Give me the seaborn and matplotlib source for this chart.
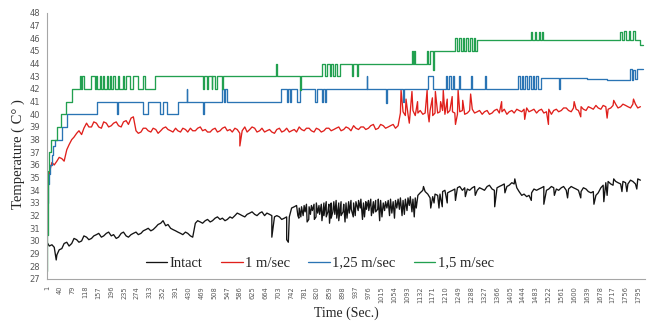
import matplotlib
matplotlib.use("Agg")
import matplotlib.pyplot as plt
import seaborn as sns
import pandas as pd

# ---------------- data ----------------
SERIES = ["Intact", "1 m/sec", "1,25 m/sec", "1,5 m/sec"]
COLORS = ["#141414", "#e0201c", "#2a74b4", "#22a050"]

x_ticks = list(range(1, 1796, 39))          # 1, 40, 79, ... 1795
y_ticks = list(range(27, 49))

# noisy series read every 15 s (s = 1, 16, ... 1801) and in between (s = 8, 23, ... 1793)
base_s = list(range(1, 1802, 15))
mid_s = list(range(8, 1794, 15))

intact_base = [
    29.9, 29.7, 28.9, 29.4, 29.9, 29.8, 30.1, 30.0, 30.3, 30.2,
    30.5, 30.3, 30.6, 30.4, 30.2, 30.6, 30.4, 30.5, 30.7, 30.6,
    30.9, 30.8, 31.1, 31.4, 31.2, 31.0, 30.8, 30.6, 30.7, 30.4,
    31.4, 31.5, 31.6, 31.5, 31.8, 31.7, 31.6, 31.9, 32.0, 32.1,
    31.9, 32.2, 32.1, 32.2, 32.0, 32.1, 31.9, 31.9, 31.8, 31.9,
    32.7, 32.6, 32.8, 32.7, 32.9, 32.8, 33.0, 32.9, 33.1, 33.0,
    32.9, 33.1, 33.0, 33.2, 33.0, 33.2, 33.1, 33.3, 33.0, 33.2,
    33.1, 33.3, 33.2, 33.4, 33.3, 33.6, 34.0, 33.7, 33.5, 33.6,
    33.9, 33.8, 34.0, 34.2, 34.0, 34.1, 34.2, 34.0, 34.1, 34.3,
    34.1, 34.2, 34.4, 34.3, 34.6, 34.2, 33.6, 33.5, 33.8, 34.0,
    34.2, 34.0, 34.3, 34.1, 34.2, 34.0, 34.3, 34.1, 33.9, 34.1,
    33.8, 33.6, 34.2, 34.6, 34.5, 34.7, 34.5, 34.6, 34.8, 34.5,
    34.8,
]
intact_mid = [
    29.6, 29.5, 29.3, 29.8, 29.6, 30.2, 29.9, 30.4, 30.1, 30.4,
    30.6, 30.4, 30.7, 30.5, 30.3, 30.7, 30.3, 30.6, 30.5, 30.8,
    31.0, 30.9, 31.3, 31.6, 31.3, 30.9, 30.7, 30.5, 30.6, 30.3,
    31.6, 31.4, 31.7, 31.6, 31.9, 31.8, 31.7, 31.8, 32.2, 32.0,
    32.1, 32.3, 32.0, 32.3, 32.2, 32.0, 32.0, 31.7, 31.9, 32.6,
    32.8, 32.7, 32.9, 32.8, 33.0, 32.9, 33.1, 33.0, 33.2, 33.1,
    33.0, 33.2, 33.1, 33.3, 33.1, 33.3, 33.2, 33.2, 33.1, 33.3,
    33.2, 33.4, 33.3, 33.5, 33.4, 33.8, 33.9, 33.4, 33.7, 33.7,
    34.0, 33.9, 34.1, 34.3, 34.2, 34.0, 34.3, 34.2, 34.0, 34.4,
    34.0, 34.3, 34.5, 34.4, 34.5, 33.9, 33.7, 33.6, 34.1, 34.1,
    34.3, 34.1, 34.2, 34.0, 34.3, 34.1, 34.2, 34.0, 34.2, 33.9,
    33.9, 33.8, 34.4, 34.7, 34.4, 34.6, 34.7, 34.5, 34.7, 34.9,
]
intact_spike_s = [29, 683, 728, 733,
                  762, 765, 771, 778, 784, 790, 795, 800, 806, 812, 817, 822, 828,
                  835, 841, 848, 853, 858, 863, 868, 874, 880, 886, 893, 899, 905,
                  911, 918, 924, 930, 936, 945, 951, 958, 964, 970, 977, 985, 991,
                  998, 1004, 1010, 1017, 1025, 1032, 1040, 1047, 1055, 1062, 1070,
                  1078, 1085, 1093, 1100, 1108, 1115, 1121,
                  1143, 1165, 1175, 1190, 1200, 1215, 1240, 1270, 1300, 1359, 1390,
                  1420, 1470, 1508, 1540, 1580, 1620, 1660, 1690, 1700, 1720, 1745,
                  1760, 1790]
intact_spike_v = [28.5, 30.3, 30.1, 29.9,
                  32.0, 31.8, 31.9, 32.0, 32.3, 31.5, 31.7, 32.1, 32.4, 31.7, 31.9,
                  32.2, 32.1, 31.6, 32.0, 31.9, 32.3, 31.4, 31.8, 32.3, 32.1, 31.8,
                  31.6, 32.0, 32.3, 31.5, 31.8, 32.2, 32.5, 31.9, 32.0, 32.4, 32.6,
                  31.7, 31.9, 32.5, 32.4, 32.0, 32.2, 32.3, 32.5, 31.6, 31.9, 32.4,
                  32.6, 32.0, 32.2, 31.8, 32.6, 32.5, 32.0, 32.1, 32.4, 32.8, 32.3,
                  31.9, 32.6,
                  34.3, 32.6, 33.0, 32.6, 32.7, 33.0, 33.2, 33.5, 33.6, 32.7, 33.8,
                  34.9, 33.2, 32.9, 33.6, 33.4, 33.4, 32.9, 33.1, 33.6, 34.9, 33.9,
                  33.9, 34.1]

red_base = [
    33.0, 36.2, 36.3, 36.5, 37.2, 38.0, 38.5, 38.4, 39.3, 39.0,
    39.3, 38.9, 39.3, 39.1, 39.4, 39.0, 39.5, 39.7, 38.7, 38.6,
    38.9, 38.6, 38.8, 38.7, 39.0, 38.7, 38.9, 38.6, 38.8, 38.9,
    38.7, 39.0, 38.8, 38.6, 38.9, 38.7, 39.0, 38.8, 38.9, 38.5,
    39.0, 38.8, 38.9, 38.7, 38.6, 38.8, 38.5, 38.9, 38.7, 38.6,
    38.8, 39.0, 38.7, 38.9, 38.6, 38.8, 38.7, 38.9, 38.8, 39.0,
    38.8, 38.9, 39.1, 38.8, 39.0, 38.9, 39.2, 38.9, 39.1, 39.0,
    39.2, 39.1, 40.2, 40.0, 40.3, 40.1, 40.0, 40.2, 39.9, 40.1,
    40.3, 40.1, 40.2, 40.0, 40.3, 40.1, 40.4, 40.2, 40.0, 40.3,
    40.1, 40.4, 40.2, 40.0, 40.3, 40.4, 40.2, 40.5, 40.3, 40.1,
    40.4, 40.2, 40.0, 40.4, 40.3, 40.5, 40.2, 40.4, 40.6, 40.3,
    40.5, 40.7, 40.4, 40.6, 40.5, 40.8, 40.6, 40.7, 40.5, 40.8,
    40.6,
]
red_mid = [
    35.3, 36.0, 36.6, 36.3, 37.6, 38.2, 38.7, 38.9, 39.0, 39.4,
    39.0, 39.4, 39.0, 39.3, 39.1, 39.4, 39.2, 39.8, 38.5, 38.9,
    38.7, 38.9, 38.5, 38.9, 38.8, 38.6, 38.7, 38.9, 38.6, 38.7,
    38.9, 38.7, 38.6, 38.8, 38.6, 38.9, 38.7, 38.6, 38.8, 38.7,
    38.6, 39.0, 38.6, 38.9, 38.7, 38.6, 38.8, 38.6, 38.9, 38.7,
    38.6, 38.8, 38.9, 38.7, 38.9, 38.6, 38.9, 38.7, 38.9, 38.7,
    39.0, 38.7, 38.9, 39.0, 38.8, 39.1, 38.8, 39.2, 38.9, 39.1,
    38.9, 40.1, 39.9, 40.2, 39.9, 40.3, 40.1, 40.3, 40.1, 40.2,
    40.0, 40.3, 40.1, 40.2, 40.0, 40.3, 40.1, 40.3, 40.2, 40.0,
    40.3, 40.1, 40.4, 40.2, 40.1, 40.3, 40.4, 40.2, 40.4, 40.3,
    40.1, 40.4, 40.3, 40.2, 40.5, 40.3, 40.5, 40.3, 40.4, 40.6,
    40.4, 40.5, 40.7, 40.4, 40.7, 40.5, 40.8, 40.6, 40.8, 40.5,
]
red_spike_s = [4, 12, 586, 1075, 1090, 1100, 1108, 1125, 1154, 1160, 1170,
               1179, 1195, 1203, 1215, 1230, 1240, 1248, 1262, 1286, 1380, 1450,
               1522, 1600, 1620, 1700, 1720, 1780]
red_spike_v = [34.5, 35.8, 37.5, 41.9, 41.2, 39.3, 41.8, 41.0, 41.9,
               39.4, 41.3, 41.8, 41.0, 41.9, 41.2, 41.4, 39.2, 41.9, 41.1, 41.6,
               41.0, 39.6, 39.2, 41.0, 39.8, 39.7, 41.1, 41.2]

# quantised series: change points (sample, new level)
blue_s = [1, 2, 4, 7, 11, 15, 19, 24, 48, 63, 152,
          213, 216, 292, 307, 344, 353, 364, 398, 425, 427, 474, 478, 531, 538, 542, 546,
          710, 728, 731, 738, 741, 758, 768, 815, 820, 835, 838, 845, 848, 971, 973,
          1030, 1033, 1082, 1085, 1158, 1173, 1210, 1215, 1220, 1225, 1233, 1237,
          1250, 1253, 1286, 1289, 1331, 1333,
          1431, 1436, 1442, 1446, 1452, 1457, 1463, 1468, 1474, 1479, 1485, 1490,
          1498, 1553, 1556, 1640, 1700, 1770, 1774, 1780, 1784, 1792, 1810]
blue_v = [31.5, 33.0, 34.5, 35.3, 36.0, 36.8, 37.5, 38, 39, 40, 41,
          40, 41, 40, 41, 40, 41, 40, 41, 42, 41, 40, 41, 42, 41, 42, 41,
          42, 41, 42, 41, 42, 41, 42, 41, 42, 41, 42, 41, 42, 43, 42,
          40.9, 42, 41, 42, 43, 42, 43, 42, 43, 42, 43, 42,
          43, 42, 43, 42, 43, 42,
          43, 42, 43, 42, 43, 42, 43, 42, 43, 42, 43, 42,
          42.9, 42, 42.9, 42.8, 42.7, 43.6, 42.7, 43.5, 42.8, 43.6, 43.6]

green_s = [1, 2, 3, 5, 8, 12, 32, 45, 58, 78,
           100, 104, 108, 112, 136, 146, 151, 154, 161, 164, 171, 174, 182, 185,
           192, 195, 202, 206, 217, 220, 232, 236, 242, 252, 262, 278, 293, 297,
           328, 473, 476, 487, 490, 500, 503, 512, 517, 532, 536,
           696, 699, 769, 772,
           835, 845, 850, 858, 862, 870, 875, 882, 890, 926, 929, 941, 944,
           1108, 1111, 1114, 1118, 1154, 1158, 1162, 1172, 1174,
           1240, 1245, 1252, 1256, 1262, 1266, 1272, 1278, 1285, 1290, 1296, 1300, 1306,
           1468, 1472, 1480, 1484, 1492, 1496, 1502, 1506,
           1740, 1744, 1752, 1756, 1765, 1770, 1780, 1786, 1800, 1810]
green_v = [27.6, 30.5, 33.0, 35.5, 37.0, 38, 39, 40, 41, 42,
           43, 42, 43, 42, 43, 42, 43, 42, 43, 42, 43, 42, 43, 42,
           43, 42, 43, 42, 43, 42, 43, 42, 43, 42, 43, 42, 43, 42,
           43, 42, 43, 42, 43, 42, 43, 42, 43, 42, 43,
           44, 43, 41.9, 43,
           44, 43, 44, 43, 44, 43, 44, 43, 44, 43, 44, 43, 44,
           45, 44, 45, 44, 45, 44, 45, 43.5, 45,
           46, 45, 46, 45, 46, 45, 46, 45, 46, 45, 46, 45, 45.9,
           46.5, 45.9, 46.5, 45.9, 46.5, 45.9, 46.5, 45.9,
           46.5, 45.9, 46.6, 45.9, 46.6, 45.9, 46.6, 45.9, 45.5, 45.5]


def noisy(base_vals, mid_vals, spike_s, spike_v):
    pts = (list(zip(base_s, base_vals)) + list(zip(mid_s, mid_vals))
           + list(zip(spike_s, spike_v)))
    pts.sort(key=lambda p: p[0])
    return [p[0] for p in pts], [p[1] for p in pts]


def stepped(cs, cv):
    xs, ys = [], []
    for i, (a, v) in enumerate(zip(cs, cv)):
        if i > 0:
            xs.append(a)
            ys.append(cv[i - 1])
        xs.append(a)
        ys.append(v)
    return xs, ys


frames = []
for name, (xs, ys) in zip(SERIES, [noisy(intact_base, intact_mid, intact_spike_s, intact_spike_v),
                                   noisy(red_base, red_mid, red_spike_s, red_spike_v),
                                   stepped(blue_s, blue_v),
                                   stepped(green_s, green_v)]):
    frames.append(pd.DataFrame({"Time": xs, "Temp": ys, "Series": name}))
df = pd.concat(frames, ignore_index=True)

# ---------------- plot ----------------
sns.set_style("white")
fig = plt.figure(figsize=(6.49, 3.24), dpi=100)
ax = fig.add_axes([0.0724, 0.139, 0.922, 0.821])

sns.lineplot(data=df, x="Time", y="Temp", hue="Series", hue_order=SERIES,
             palette=COLORS, estimator=None, sort=False, lw=0.95, ax=ax)

ax.set_xlim(1, 1816)
ax.set_ylim(27, 48)
ax.set_xticks(x_ticks)
ax.set_xticklabels([str(t) for t in x_ticks], rotation=90,
                   family=["Liberation Sans Narrow", "DejaVu Sans"], fontsize=4.8,
                   color="#595959")
ax.set_yticks(y_ticks)
ax.set_yticklabels([str(t) for t in y_ticks], fontsize=6, color="#595959")
ax.tick_params(axis="y", length=3, width=0.7, color="#a6a6a6", pad=2)
ax.tick_params(axis="x", length=0, pad=5)

for side in ["top", "right"]:
    ax.spines[side].set_visible(False)
for side in ["left", "bottom"]:
    ax.spines[side].set_color("#a6a6a6")
    ax.spines[side].set_linewidth(0.8)

ax.set_xlabel("Time (Sec.)", fontdict={"family": "Liberation Serif", "size": 10}, labelpad=3)
ax.set_ylabel("Temperature ( C° )", fontdict={"family": "Liberation Serif", "size": 10.5},
              labelpad=2)
ax.yaxis.set_label_coords(-0.037, 0.47)

handles, labels = ax.get_legend_handles_labels()
ax.legend(handles, labels, ncol=4, loc="center left", bbox_to_anchor=(0.155, 0.06),
          frameon=False, prop={"family": "Liberation Serif", "size": 10.5},
          handlelength=1.5, handletextpad=0.15, columnspacing=1.25, borderaxespad=0)

fig.savefig("out.png", dpi=100)
